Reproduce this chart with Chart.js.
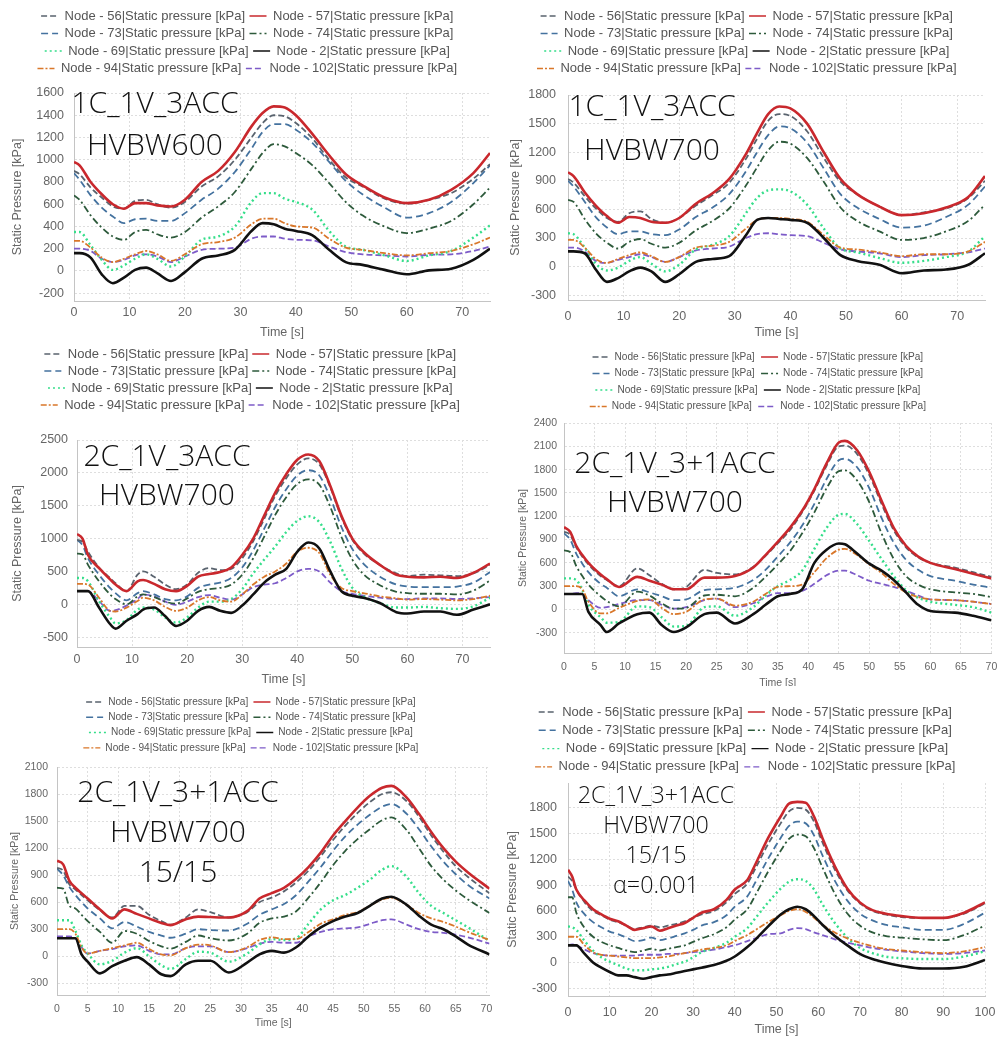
<!DOCTYPE html>
<html>
<head>
<meta charset="utf-8">
<script src="https://cdn.jsdelivr.net/npm/chart.js@4.4.1/dist/chart.umd.min.js"></script>
<style>
  body { margin: 0; background: #fff; width: 1005px; height: 1037px; position: relative; overflow: hidden; }
  .panel { position: absolute; background: #fff; }
  .note { position: absolute; width: 300px; text-align: center; white-space: nowrap;
          font-family: 'Open Sans', sans-serif; font-weight: 300; color: #111; }
</style>
</head>
<body>
<script>
// ---- legend labels (same in every panel) ----
const LABELS = [
  'Node - 56|Static pressure [kPa]', 'Node - 57|Static pressure [kPa]',
  'Node - 73|Static pressure [kPa]', 'Node - 74|Static pressure [kPa]',
  'Node - 69|Static pressure [kPa]', 'Node - 2|Static pressure [kPa]',
  'Node - 94|Static pressure [kPa]', 'Node - 102|Static pressure [kPa]'
];

// ---- panel 1 : 1C_1V_3ACC HVBW600 ----
const p1_note = ['1C_1V_3ACC', 'HVBW600'];
const p1_time = [0,1,3,5,7,9,11,13,15,17.5,20,23,26,29,32,34,36,38,40,43,46,49,52,56,60,64,68,72,75];
const p1_n56  = [900,870,750,660,580,560,630,640,600,570,620,760,850,1000,1200,1330,1400,1390,1330,1190,1000,840,760,650,605,640,700,830,960];
const p1_n57  = [980,950,800,690,600,560,610,610,590,580,640,800,900,1070,1300,1420,1480,1470,1400,1230,1040,870,770,660,610,640,730,880,1060];
const p1_n73  = [880,820,680,570,490,430,465,470,450,450,520,640,740,890,1100,1250,1320,1320,1270,1150,980,810,690,570,480,520,620,790,950];
const p1_n74  = [680,640,500,390,310,280,350,370,330,300,350,480,580,710,920,1060,1140,1120,1060,950,790,620,500,400,340,380,450,600,750];
const p1_n69  = [350,350,230,100,10,50,110,150,110,40,130,280,310,400,620,700,700,650,620,550,360,220,190,140,90,140,180,300,410];
const p1_n2   = [160,160,120,-30,-110,-60,10,30,-20,-90,-10,110,140,190,360,430,420,380,360,320,190,80,55,10,-30,5,20,100,200];
const p1_n94  = [270,270,210,120,80,110,150,180,150,90,150,240,260,300,420,470,470,430,400,390,290,210,190,160,140,160,180,240,300];
const p1_n102 = [200,200,180,110,80,100,140,150,130,80,130,190,200,210,290,310,310,290,280,275,220,170,150,140,130,145,150,180,220];
const p1_yTicks = [-200,0,200,400,600,800,1000,1200,1400,1600];
const p1_xTicks = [0,10,20,30,40,50,60,70];

// ---- panel 2 : 1C_1V_3ACC HVBW700 ----
const p2_note = ['1C_1V_3ACC', 'HVBW700'];
const p2_time = [0,1,3,5,7,9,11,13,15,17.5,20,23,26,29,32,34,36,38,40,43,46,49,52,56,60,64,68,72,75];
const p2_n56  = [920,880,740,610,510,470,560,580,500,460,510,640,750,880,1130,1340,1530,1600,1580,1420,1140,890,760,630,540,570,610,720,900];
const p2_n57  = [990,950,780,640,530,460,520,510,470,460,510,660,770,920,1180,1400,1600,1680,1660,1500,1200,920,760,630,540,560,620,730,950];
const p2_n73  = [900,840,680,520,410,340,370,370,340,330,390,520,620,760,1000,1200,1380,1470,1450,1300,1030,760,620,500,410,430,520,650,840];
const p2_n74  = [700,680,500,350,250,190,260,290,240,200,250,380,480,610,850,1040,1220,1310,1290,1140,890,620,480,370,280,300,370,480,650];
const p2_n69  = [350,340,200,30,-40,-10,60,100,30,-50,20,180,230,320,560,720,800,810,790,650,400,190,150,90,40,60,100,160,320];
const p2_n2   = [160,160,140,-30,-160,-120,-50,-10,-50,-160,-80,50,80,110,330,490,510,500,490,460,300,120,60,20,-70,-40,-30,20,140];
const p2_n94  = [280,280,200,80,40,80,120,150,110,50,100,200,220,260,400,490,510,510,500,470,330,200,180,150,110,130,130,160,260];
const p2_n102 = [200,200,160,60,40,70,100,130,100,50,100,170,190,210,300,340,350,340,330,320,250,180,160,140,100,120,130,150,190];
const p2_yTicks = [-300,0,300,600,900,1200,1500,1800];
const p2_xTicks = [0,10,20,30,40,50,60,70];

// ---- panel 3 : 2C_1V_3ACC HVBW700 ----
const p3_note = ['2C_1V_3ACC', 'HVBW700'];
const p3_time = [0,1,2,4,6,7,9,11,12,14,16,18,20,22,24,26,28,30,32,34,36,38,40,42,44,46,48,50,52,55,58,60,63,66,69,72,75];
const p3_n56  = [980,950,800,560,400,320,200,450,500,420,300,230,300,480,550,520,540,700,960,1300,1650,1920,2130,2220,2130,1780,1330,980,780,600,470,430,450,440,430,470,600];
const p3_n57  = [1070,1000,750,550,380,300,200,350,370,310,230,200,280,420,460,490,560,750,1000,1350,1700,1980,2200,2280,2180,1800,1350,1000,800,600,450,420,410,420,400,480,620];
const p3_n73  = [980,900,700,450,250,170,60,170,200,150,80,60,120,250,300,330,400,560,820,1150,1480,1750,1960,2040,1960,1620,1180,840,620,420,300,270,260,260,270,330,490];
const p3_n74  = [770,760,600,350,150,80,0,120,150,110,40,10,90,190,230,250,300,450,700,1030,1360,1630,1830,1900,1820,1480,1030,680,460,290,190,170,160,160,150,210,360];
const p3_n69  = [400,400,350,50,-200,-290,-240,-80,-50,-80,-200,-280,-200,-50,40,40,80,230,470,680,880,1100,1270,1340,1250,950,550,250,120,20,-50,-50,-40,-60,-70,-30,100];
const p3_n2   = [200,200,200,-50,-300,-370,-250,-150,-80,-50,-180,-330,-250,-100,-40,-100,-130,-20,150,330,450,540,800,940,850,500,200,130,100,20,-120,-140,-110,-110,-160,-80,0];
const p3_n94  = [310,310,300,100,-100,-110,-50,50,100,60,-40,-100,-50,60,110,60,40,150,300,420,500,620,800,860,780,450,250,200,170,120,90,70,80,70,60,80,130];
const p3_n102 = [200,200,200,50,-100,-90,-20,80,150,120,40,-10,40,110,140,100,70,150,260,300,320,400,500,540,500,330,200,160,130,100,80,80,90,90,80,90,110];
const p3_yTicks = [-500,0,500,1000,1500,2000,2500];
const p3_xTicks = [0,10,20,30,40,50,60,70];

// ---- panel 4 : 2C_1V_3+1ACC HVBW700 ----
const p4_note = ['2C_1V_3+1ACC', 'HVBW700'];
const p4_time = [0,1,2,3,4,6,7,9,12,14,16,18,20,23,25,28,31,33,35,37,39,41,43,45,46,48,50,52,54,56,58,60,64,67,70];
const p4_n56  = [1000,960,800,680,580,430,380,300,530,440,330,260,290,510,470,450,550,690,850,1020,1250,1530,1850,2100,2110,2000,1730,1360,1020,800,670,600,540,480,420];
const p4_n57  = [1060,1000,820,700,600,450,390,290,420,370,320,260,260,410,410,430,540,700,870,1050,1270,1550,1880,2150,2170,2050,1770,1400,1050,820,680,600,520,460,400];
const p4_n73  = [980,900,720,590,480,330,280,170,260,220,170,120,130,250,260,280,380,510,680,860,1080,1360,1680,1920,1940,1830,1560,1180,860,640,510,430,370,320,280];
const p4_n74  = [760,740,560,430,320,170,110,40,230,180,80,10,20,180,190,170,280,420,580,750,980,1250,1560,1780,1790,1660,1380,980,650,430,320,260,220,200,160];
const p4_n69  = [400,400,380,250,60,-100,-170,-160,40,30,-100,-220,-210,30,40,-80,30,180,300,380,500,780,1050,1220,1230,1100,880,650,430,250,150,100,60,30,-40];
const p4_n2   = [200,200,200,200,-30,-200,-290,-180,-60,-40,-200,-290,-230,-60,-40,-180,-60,60,170,200,260,600,770,850,840,720,590,500,380,220,60,-20,-40,-80,-140];
const p4_n94  = [300,300,300,260,100,-50,-50,20,110,130,20,-60,-30,130,140,50,100,200,290,300,320,480,660,770,780,700,580,470,330,220,160,130,120,100,70];
const p4_n102 = [200,200,210,200,120,20,30,70,120,120,60,10,30,120,140,30,80,160,210,210,240,330,440,500,500,440,370,330,290,240,180,130,120,100,70];
const p4_yTicks = [-300,0,300,600,900,1200,1500,1800,2100,2400];
const p4_xTicks = [0,5,10,15,20,25,30,35,40,45,50,55,60,65,70];

// ---- panel 5 : 2C_1V_3+1ACC HVBW700 15/15 ----
const p5_note = ['2C_1V_3+1ACC', 'HVBW700', '15/15'];
const p5_time = [0,1,2,3,4,5,7,9,11,13,15,17,18.5,21,23,25,28,31,33,35,37,39,41,43,45,47,49,51,53,54.5,57,59,61,63,65,67,70.5];
const p5_n56  = [980,950,800,740,680,620,510,430,560,560,460,390,350,430,520,490,430,490,600,650,720,820,950,1110,1290,1450,1590,1710,1800,1820,1720,1550,1340,1160,1000,880,700];
const p5_n57  = [1060,1020,840,760,700,640,520,420,520,470,420,370,345,410,440,435,430,500,640,700,760,860,990,1150,1340,1500,1650,1780,1870,1890,1760,1580,1380,1200,1050,930,750];
const p5_n73  = [970,900,770,680,600,530,420,310,380,330,270,230,205,250,300,290,285,360,460,520,580,680,830,990,1170,1330,1460,1570,1660,1690,1580,1410,1220,1050,910,790,640];
const p5_n74  = [760,750,560,530,460,390,270,150,280,250,170,110,85,160,230,200,175,250,370,420,440,500,650,820,1010,1170,1300,1410,1510,1540,1400,1200,1000,850,730,630,480];
const p5_n69  = [400,400,400,280,120,30,-90,-50,40,90,0,-100,-140,-30,50,40,-60,30,130,190,180,200,360,520,620,680,760,850,960,1000,880,700,560,480,400,320,170];
const p5_n2   = [200,200,200,200,20,-60,-190,-110,-50,-10,-90,-200,-220,-90,-50,-50,-180,-70,20,60,40,100,220,320,390,440,480,560,640,660,570,450,350,300,220,130,20];
const p5_n94  = [300,300,300,250,100,30,60,90,120,150,80,20,10,90,130,120,45,100,180,210,190,190,270,360,410,460,490,560,630,650,570,480,420,380,330,270,180];
const p5_n102 = [220,220,220,200,100,30,60,80,110,120,60,20,20,90,110,110,45,90,140,160,150,150,220,270,300,310,320,360,400,410,350,300,270,260,240,210,140];
const p5_yTicks = [-300,0,300,600,900,1200,1500,1800,2100];
const p5_xTicks = [0,5,10,15,20,25,30,35,40,45,50,55,60,65,70];

// ---- panel 6 : 2C_1V_3+1ACC HVBW700 15/15 alpha=0.001 ----
const p6_note = ['2C_1V_3+1ACC', 'HVBW700', '15/15', 'α=0.001'];
const p6_time = [0,1,2,4,6,8,10,12,14,16,18,20,22,24,26,28,30,32,35,38,40,43,45,48,51,53,55,57,59,61,64,67,70,73,76,80,85,90,95,100];
const p6_n56  = [1000,950,850,700,600,550,500,470,430,390,410,430,410,430,450,480,520,560,600,700,800,920,1100,1380,1620,1760,1800,1780,1640,1400,1080,840,690,600,560,530,520,520,570,690];
const p6_n57  = [1080,1000,850,720,620,560,510,480,430,380,400,420,370,400,430,460,520,580,620,730,850,960,1150,1450,1700,1850,1870,1860,1700,1450,1120,860,700,610,570,540,520,520,580,700];
const p6_n73  = [950,850,700,560,470,410,360,330,290,250,260,290,260,280,310,340,380,430,470,550,650,770,940,1210,1450,1590,1640,1620,1480,1250,950,720,570,490,440,410,380,380,450,580];
const p6_n74  = [760,760,580,400,300,240,200,170,140,120,140,160,140,160,180,200,240,280,330,410,500,620,790,1060,1300,1440,1490,1470,1330,1110,800,570,430,350,310,290,270,260,320,430];
const p6_n69  = [420,410,380,250,140,60,10,-30,-70,-90,-90,-80,-70,-50,-20,10,60,120,170,230,300,400,520,700,860,940,970,950,850,680,460,290,170,110,70,50,40,40,70,130];
const p6_n2   = [200,200,200,100,0,-60,-110,-150,-150,-170,-190,-170,-150,-140,-120,-100,-80,-60,-30,20,70,180,270,420,560,620,650,620,540,440,310,200,100,40,0,-40,-70,-70,-50,30];
const p6_n94  = [300,300,300,200,120,90,80,70,60,50,50,50,60,70,90,110,130,150,170,200,250,320,380,470,550,600,620,590,520,440,350,280,230,190,160,140,120,110,130,180];
const p6_n102 = [200,210,200,150,110,90,80,80,80,80,90,90,90,100,100,110,120,130,150,180,200,250,280,330,340,380,400,390,350,320,270,230,200,170,150,130,110,100,110,140];
const p6_yTicks = [-300,0,300,600,900,1200,1500,1800];
const p6_xTicks = [0,10,20,30,40,50,60,70,80,90,100];

// ---- line styles, in legend order 56,57,73,74,69,2,94,102 ----
const STYLES = [
  { color: '#59636e', width: 1.8, dash: [6, 3],       order: 4 },
  { color: '#c9282d', width: 2.6, dash: [],           order: 0 },
  { color: '#44729f', width: 1.8, dash: [7, 4],       order: 5 },
  { color: '#2d5a3b', width: 1.8, dash: [7, 3, 2, 3], order: 6 },
  { color: '#35de8a', width: 2.4, dash: [2, 3],       order: 3 },
  { color: '#111111', width: 2.6, dash: [],           order: 1 },
  { color: '#d9772a', width: 1.8, dash: [6, 2, 2, 2], order: 2 },
  { color: '#7d5bc8', width: 1.8, dash: [6, 3],       order: 7 }
];

const SANS = "'Liberation Sans', Arial, sans-serif";

// layout of each panel (canvas box, plot edges, fonts)
const PANELS = [
  { x: 0,   y: 0,   w: 500, h: 340, pl: 10.5, pr: 10, pt: 5,    pb: 0,   plotL: 74, plotT: 93, plotB: 301,
    fs: 12.5, lfs: 13, lpad: 4.5, ldx: -3, tickPadX: 4.5, tickPadY: 10,
    min: -270, max: 1600, xmax: 75, time: p1_time, series: [p1_n56,p1_n57,p1_n73,p1_n74,p1_n69,p1_n2,p1_n94,p1_n102],
    yTicks: p1_yTicks, xTicks: p1_xTicks, note: p1_note, noteX: 155, noteY: [103,145], noteSize: 30 },
  { x: 500, y: 0,   w: 505, h: 340, pl: 8.5, pr: 20, pt: 5,    pb: 0,   plotL: 68, plotT: 95, plotB: 300,
    fs: 12.5, lfs: 13, lpad: 4.5, ldx: 0, tickPadX: 9, tickPadY: 12,
    min: -350, max: 1800, xmax: 75, time: p2_time, series: [p2_n56,p2_n57,p2_n73,p2_n74,p2_n69,p2_n2,p2_n94,p2_n102],
    yTicks: p2_yTicks, xTicks: p2_xTicks, note: p2_note, noteX: 152, noteY: [106,150], noteSize: 30 },
  { x: 0,   y: 340, w: 500, h: 350, pl: 10.5, pr: 10, pt: 3.5,  pb: 2.5, plotL: 77, plotT: 100, plotB: 307,
    fs: 12.5, lfs: 13, lpad: 4, ldx: 0, tickPadX: 5.5, tickPadY: 9,
    min: -650, max: 2500, xmax: 75, time: p3_time, series: [p3_n56,p3_n57,p3_n73,p3_n74,p3_n69,p3_n2,p3_n94,p3_n102],
    yTicks: p3_yTicks, xTicks: p3_xTicks, note: p3_note, noteX: 167, noteY: [116,155], noteSize: 30 },
  { x: 500, y: 340, w: 505, h: 350, pl: 16.7, pr: 6, pt: 5.5,  pb: 0.7, plotL: 64, plotT: 83, plotB: 313,
    fs: 10.5, lfs: 10.1, lpad: 6.4, ldx: 0, tickPadX: 7.7, tickPadY: 7,
    min: -560, max: 2400, xmax: 70, time: p4_time, series: [p4_n56,p4_n57,p4_n73,p4_n74,p4_n69,p4_n2,p4_n94,p4_n102],
    yTicks: p4_yTicks, xTicks: p4_xTicks, note: p4_note, noteX: 175, noteY: [123,162], noteSize: 30 },
  { x: 0,   y: 686, w: 500, h: 351, pl: 8.7, pr: 7, pt: 5.7,  pb: 7.7, plotL: 57, plotT: 81, plotB: 309,
    fs: 10.5, lfs: 10.1, lpad: 5.2, ldx: 0, tickPadX: 7.7, tickPadY: 9,
    min: -430, max: 2100, xmax: 70.5, time: p5_time, series: [p5_n56,p5_n57,p5_n73,p5_n74,p5_n69,p5_n2,p5_n94,p5_n102],
    yTicks: p5_yTicks, xTicks: p5_xTicks, note: p5_note, noteX: 178, noteY: [106,146,186], noteSize: 30 },
  { x: 500, y: 686, w: 505, h: 351, pl: 5.5, pr: 20, pt: 14.2, pb: 0,  plotL: 68, plotT: 97, plotB: 310,
    fs: 12.5, lfs: 13, lpad: 5.3, ldx: 0, tickPadX: 8.6, tickPadY: 11,
    min: -390, max: 2090, xmax: 100, time: p6_time, series: [p6_n56,p6_n57,p6_n73,p6_n74,p6_n69,p6_n2,p6_n94,p6_n102],
    yTicks: p6_yTicks, xTicks: p6_xTicks, note: p6_note, noteX: 156, noteY: [109,139,169,199], noteSize: 23.3 }
];

// makes the legend take a fixed height (and optional x shift) so the plot starts where it should
function legendFit(height, dx) {
  return {
    id: 'legendFit',
    beforeLayout(chart) {
      const lg = chart.legend;
      if (!lg || lg._fitDone) return;
      const fit = lg.fit, draw = lg.draw;
      lg.fit = function () { fit.call(this); this.height = height; };
      lg.draw = function (area) {
        const c = this.ctx;
        c.save(); c.translate(dx, 0); draw.call(this, area); c.restore();
      };
      lg._fitDone = true;
    }
  };
}

// legend markers: short thin lines with the dataset dash pattern
function legendItems(chart) {
  const items = Chart.defaults.plugins.legend.labels.generateLabels(chart);
  items.forEach(it => {
    const ds = chart.data.datasets[it.datasetIndex];
    it.lineDash = ds.borderDash;
    it.lineWidth = 1.4;
    it.strokeStyle = ds.borderColor;
  });
  return items;
}

function drawPanel(p) {
  const box = document.createElement('div');
  box.className = 'panel';
  box.style.cssText = `left:${p.x}px;top:${p.y}px;width:${p.w}px;height:${p.h}px`;
  const cv = document.createElement('canvas');
  cv.width = p.w; cv.height = p.h;
  box.appendChild(cv);
  document.body.appendChild(box);

  const datasets = p.series.map((vals, i) => {
    const s = STYLES[i];
    return {
      label: LABELS[i],
      data: p.time.map((t, k) => ({ x: t, y: vals[k] })),
      borderColor: s.color,
      backgroundColor: s.color,
      borderWidth: s.width,
      borderDash: s.dash,
      pointRadius: 0,
      cubicInterpolationMode: 'monotone',
      order: s.order,
      fill: false
    };
  });

  const titleFont = { family: SANS, size: p.fs };
  const tickFont = { family: SANS, size: p.fs };

  new Chart(cv, {
    type: 'line',
    data: { datasets },
    options: {
      responsive: false,
      animation: false,
      events: [],
      layout: { padding: { left: p.pl, right: p.pr, top: p.pt, bottom: p.pb } },
      plugins: {
        tooltip: { enabled: false },
        legend: {
          position: 'top',
          labels: {
            usePointStyle: true,
            pointStyle: 'line',
            pointStyleWidth: 17,
            padding: p.lpad,
            color: '#555',
            font: { family: SANS, size: p.lfs },
            generateLabels: legendItems,
            sort: (a, b) => a.datasetIndex - b.datasetIndex
          }
        }
      },
      scales: {
        x: {
          type: 'linear',
          min: 0,
          max: p.xmax,
          afterBuildTicks: s => { s.ticks = p.xTicks.map(v => ({ value: v })); },
          afterFit: s => { s.height = p.h - p.pb - p.plotB; },
          grid: { color: '#dedede', drawTicks: false },
          border: { color: '#c4c4c4', dash: [2, 2] },
          ticks: { color: '#666', font: tickFont, padding: p.tickPadX, maxRotation: 0, autoSkip: false,
                   callback: v => String(v) },
          title: { display: true, text: 'Time [s]', color: '#666', font: titleFont, padding: { top: 0, bottom: 0 } }
        },
        y: {
          min: p.min,
          max: p.max,
          afterBuildTicks: s => { s.ticks = p.yTicks.map(v => ({ value: v })); },
          afterFit: s => { s.width = p.plotL - p.pl; },
          grid: { color: '#dedede', drawTicks: false },
          border: { color: '#c4c4c4', dash: [2, 2] },
          ticks: { color: '#666', font: tickFont, padding: p.tickPadY, callback: v => String(v) },
          title: { display: true, text: 'Static Pressure [kPa]', color: '#666', font: titleFont, padding: { top: 0, bottom: 0 } }
        }
      }
    },
    plugins: [legendFit(p.plotT - p.pt, p.ldx)]
  });

  // big case labels written on the plot
  p.note.forEach((txt, i) => {
    const d = document.createElement('div');
    d.className = 'note';
    d.textContent = txt;
    d.style.fontSize = p.noteSize + 'px';
    d.style.lineHeight = p.noteSize + 'px';
    d.style.left = (p.noteX - 150) + 'px';
    d.style.top = (p.noteY[i] - 0.53 * p.noteSize) + 'px';
    box.appendChild(d);
  });
}

PANELS.forEach(drawPanel);
</script>
</body>
</html>
